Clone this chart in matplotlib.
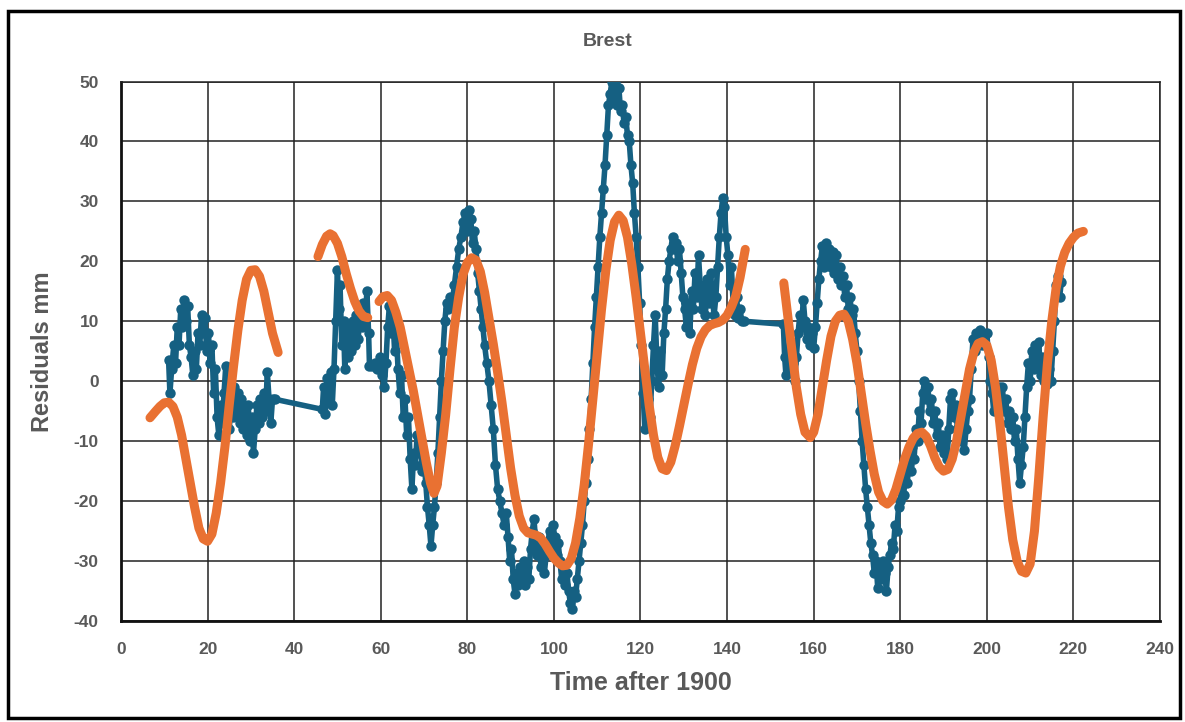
import matplotlib.pyplot as plt
from matplotlib.patches import Rectangle

plt.rcParams['axes.unicode_minus'] = False
plt.rcParams['font.family'] = ['Liberation Sans', 'DejaVu Sans']

obs_x = [11.0, 11.3, 11.7, 12.2, 12.6, 13.0, 13.4, 13.8, 14.2, 14.6, 15.0, 15.4, 15.8, 16.2, 16.6, 17.0,
         17.4, 17.8, 18.2, 18.6, 19.0, 19.4, 19.8, 20.2, 20.6, 21.0, 21.4, 21.8, 22.2, 22.6, 23.0, 23.4,
         23.8, 24.2, 24.6, 25.0, 25.4, 25.8, 26.2, 26.6, 27.0, 27.4, 27.8, 28.2, 28.6, 29.0, 29.4, 29.8,
         30.2, 30.6, 31.0, 31.4, 31.8, 32.2, 32.6, 33.0, 33.4, 33.8, 34.2, 34.6, 35.0, 35.5,
         46.5, 46.8, 47.2, 47.6, 48.0, 48.4, 48.8, 49.2, 49.6, 50.0, 50.3, 50.6, 51.0, 51.4, 51.7, 52.0,
         52.4, 52.8, 53.2, 53.6, 54.0, 54.4, 54.8, 55.2, 55.6, 56.0, 56.4, 56.8, 57.2, 57.4, 58.0, 58.6,
         59.2, 59.8, 60.4, 60.8, 61.2, 61.6, 62.0, 62.4, 62.8, 63.2, 63.6, 64.0, 64.4, 64.8, 65.2, 65.6,
         66.0, 66.4, 66.8, 67.2, 67.6, 68.0, 68.4, 68.8, 69.2, 69.6, 70.0, 70.4, 70.8, 71.2, 71.6, 72.0,
         72.4, 72.8, 73.2, 73.6, 74.0, 74.4, 74.8, 75.2, 75.6, 76.0, 76.5, 77.0, 77.5, 78.0, 78.5, 79.0,
         79.5, 80.0, 80.4, 80.8, 81.2, 81.6, 82.0, 82.4, 82.8, 83.2, 83.6, 84.0, 84.5, 85.0, 85.5, 86.0,
         86.5, 87.0, 87.5, 88.0, 88.5, 89.0, 89.4, 89.8, 90.2, 90.6, 91.0, 91.4, 91.8, 92.2, 92.6, 93.0,
         93.4, 93.8, 94.2, 94.6, 95.0, 95.4, 95.8, 96.2, 96.6, 97.0, 97.4, 97.8, 98.2, 98.6, 99.0, 99.4,
         99.8, 100.2, 100.6, 101.0, 101.4, 101.8, 102.2, 102.6, 103.0, 103.4, 103.8, 104.2, 104.6, 105.0,
         105.4, 105.8, 106.2, 106.6, 107.0, 107.4, 107.8, 108.2, 108.6, 109.0, 109.4, 109.8, 110.2, 110.6,
         111.0, 111.4, 111.8, 112.2, 112.6, 113.0, 113.4, 113.8, 114.2, 114.6, 115.0, 115.4, 115.8, 116.2,
         116.6, 117.0, 117.4, 117.8, 118.2, 118.6, 119.0, 119.4, 119.8, 120.2, 120.6, 121.0, 121.4, 121.8,
         122.2, 122.6, 123.0, 123.4, 123.8, 124.2, 124.6, 125.0, 125.4, 125.8, 126.2, 126.6, 127.0, 127.4,
         127.8, 128.2, 128.6, 129.0, 129.4, 129.8, 130.2, 130.6, 131.0, 131.4, 131.8, 132.2, 132.6, 133.0,
         133.4, 133.8, 134.2, 134.6, 135.0, 135.4, 135.8, 136.2, 136.6, 137.0, 137.4, 137.8, 138.2, 138.6,
         139.0, 139.4, 139.8, 140.2, 140.6, 141.0, 141.4, 141.8, 142.2, 142.6, 143.0, 143.4, 144.0,
         153.0, 153.3, 153.6, 154.0, 154.4, 154.8, 155.2, 155.6, 156.0, 156.4, 156.8, 157.2, 157.6, 158.0,
         158.4, 158.8, 159.2, 159.6, 160.0, 160.4, 160.8, 161.2, 161.6, 162.0, 162.4, 162.8, 163.2, 163.6,
         164.0, 164.4, 164.8, 165.2, 165.6, 166.0, 166.4, 166.8, 167.2, 167.6, 168.0, 168.4, 168.8, 169.2,
         169.6, 170.0, 170.4, 170.8, 171.2, 171.6, 172.0, 172.4, 172.8, 173.2, 173.6, 174.0, 174.4, 174.8,
         175.2, 175.6, 176.0, 176.4, 176.8, 177.2, 177.6, 178.0, 178.4, 178.8, 179.2, 179.6, 180.0, 180.4,
         180.8, 181.2, 181.6, 182.0, 182.4, 182.8, 183.2, 183.6, 184.0, 184.4, 184.8, 185.2, 185.6, 186.0,
         186.4, 186.8, 187.2, 187.6, 188.0, 188.4, 188.8, 189.2, 189.6, 190.0, 190.4, 190.8, 191.2, 191.6,
         192.0, 192.4, 192.8, 193.2, 193.6, 194.0, 194.4, 194.8, 195.2, 195.6, 196.0, 196.4, 196.8, 197.2,
         197.6, 198.0, 198.4, 198.8, 199.2, 199.6, 200.0, 200.4, 200.8, 201.2, 201.6, 202.0, 202.4, 202.8,
         203.2, 203.6, 204.0, 204.4, 204.8, 205.2, 205.6, 206.0, 206.4, 206.8, 207.2, 207.6, 208.0, 208.4,
         208.8, 209.2, 209.6, 210.0, 210.4, 210.8, 211.2, 211.6, 212.0, 212.4, 212.8, 213.2, 213.6, 214.0,
         214.4, 214.8, 215.2, 215.6, 216.0, 216.4, 216.8, 217.2]
obs_y = [3.5, -2.0, 2.0, 6.0, 3.0, 9.0, 6.0, 12.0, 9.0, 13.5, 10.0, 12.5, 6.0, 4.0, 1.0, 5.0,
         2.0, 8.0, 6.0, 11.0, 8.0, 10.5, 5.0, 8.0, 3.0, 6.0, -2.0, 2.0, -6.0, -9.0, -4.0, -7.0,
         -2.0, 2.5, -5.0, -8.0, -4.0, -6.0, -1.0, -5.0, -2.0, -7.0, -3.0, -8.0, -5.0, -9.0, -4.0, -10.0,
         -6.0, -12.0, -8.0, -4.0, -7.0, -3.0, -6.0, -2.0, -5.0, 1.5, -3.0, -7.0, -3.0, -3.0,
         -4.7, -1.0, -5.5, 0.5, -3.0, 1.5, -4.0, 2.0, 10.0, 18.5, 12.0, 16.0, 6.0, 10.0, 2.0, 8.0,
         4.0, 9.0, 5.0, 10.0, 6.0, 11.0, 7.0, 12.0, 9.0, 13.0, 10.0, 15.0, 8.0, 2.5, 2.5, 3.0,
         2.0, 4.0, 1.0, -1.0, 3.0, 9.0, 12.5, 8.0, 11.0, 5.0, 8.0, 2.0, -2.0, 1.0, -6.0, -3.0,
         -9.0, -6.0, -13.0, -18.0, -12.0, -14.0, -9.0, -12.0, -10.0, -15.0, -13.0, -17.0, -21.0, -24.0, -27.5, -24.0,
         -21.0, -17.0, -12.0, -6.0, 0.0, 5.0, 10.0, 13.0, 12.0, 14.0, 13.0, 16.0, 19.0, 22.0, 24.0, 26.5,
         28.0, 25.0, 28.5, 27.0, 23.0, 25.0, 22.0, 18.0, 15.0, 12.0, 9.0, 6.0, 3.0, 0.0, -4.0, -8.0,
         -14.0, -18.0, -20.0, -22.0, -24.0, -22.0, -26.0, -30.0, -28.0, -33.0, -35.5, -32.0, -34.0, -31.0, -33.0, -30.0,
         -34.0, -31.0, -33.0, -28.0, -25.0, -23.0, -27.0, -29.0, -26.0, -31.0, -28.0, -32.0, -29.0, -27.0, -25.0, -28.0,
         -24.0, -26.0, -29.0, -27.0, -30.0, -33.0, -31.0, -34.0, -32.0, -35.0, -37.0, -38.0, -35.0, -36.0,
         -33.0, -30.0, -27.0, -24.0, -20.0, -17.0, -13.0, -8.0, -3.0, 3.0, 9.0, 14.0, 19.0, 24.0,
         28.0, 32.0, 36.0, 41.0, 46.0, 48.0, 50.0, 47.0, 50.0, 46.0, 49.0, 45.0, 46.0, 43.0,
         44.0, 41.0, 40.0, 36.0, 33.0, 28.0, 24.0, 19.0, 13.0, 6.0, -2.0, -8.0, -5.0, -3.0,
         -6.0, 0.0, 6.0, 11.0, 3.0, -1.0, 5.0, 1.0, 8.0, 12.0, 17.0, 20.0, 22.0, 24.0,
         22.0, 23.0, 20.0, 22.0, 18.0, 14.0, 12.0, 9.0, 13.0, 8.0, 15.0, 12.0, 18.0, 14.0,
         21.0, 16.0, 12.0, 15.0, 11.0, 17.0, 13.0, 18.0, 14.0, 11.0, 14.0, 19.0, 24.0, 28.0,
         30.5, 29.0, 24.0, 21.0, 16.0, 19.0, 13.0, 11.0, 14.0, 10.5, 12.0, 10.0, 10.0,
         9.5, 4.0, 1.0, 5.0, 2.0, 6.0, 3.0, 0.0, 4.0, 8.0, 11.0, 9.0, 13.5, 10.0,
         7.0, 9.0, 6.0, 8.0, 5.5, 9.0, 13.0, 17.0, 20.0, 22.5, 19.0, 23.0, 20.0, 22.0,
         19.0, 21.5, 18.0, 21.0, 17.0, 19.0, 16.0, 17.5, 14.0, 16.0, 12.0, 14.0, 11.0, 12.0,
         8.0, 5.0, 0.0, -5.0, -10.0, -14.0, -18.0, -21.0, -24.0, -27.0, -29.0, -32.0, -30.0, -34.5,
         -31.0, -33.0, -30.0, -32.0, -35.0, -31.0, -29.0, -27.0, -28.0, -24.0, -25.0, -21.0, -20.0, -17.0,
         -19.0, -15.0, -17.0, -14.0, -15.0, -11.0, -13.0, -8.0, -10.0, -5.0, -7.0, -2.0, 0.0, -3.0,
         -1.0, -5.0, -3.0, -7.0, -5.0, -9.0, -7.0, -11.0, -9.0, -12.0, -10.0, -13.0, -8.0, -3.0,
         -2.0, -6.0, -4.0, -8.0, -6.0, -10.0, -8.0, -11.5, -8.0, -5.0, -3.0, 2.0, 7.0, 5.0,
         8.0, 6.0, 8.5, 6.0, 8.0, 6.0, 8.0, 4.0, 0.0, -2.0, -5.0, -2.0, -4.0, -1.0,
         -3.0, -1.0, -5.0, -3.0, -7.0, -5.0, -8.0, -6.0, -10.0, -8.0, -13.0, -17.0, -14.0, -11.0,
         -6.0, -1.0, 3.0, 0.0, 5.0, 2.0, 6.0, 3.0, 6.5, 1.0, 4.0, 0.0, 3.0, -0.5,
         2.0, 0.0, 5.0, 10.0, 16.0, 17.5, 14.0, 16.5]

# fitted curve (orange), four separate pieces
fit1_x = [6.7, 8, 9, 10, 11, 12, 13, 14, 15, 16, 17, 18, 19, 20, 21, 22, 23, 24, 25, 26, 27, 28,
          29, 30, 31, 32, 33, 34, 35, 36.3]
fit1_y = [-6.1, -5, -4.2, -3.6, -3.5, -4.2, -6, -9, -13, -17, -21, -24.5, -26.3, -26.7, -25.5, -22,
          -17, -11, -4, 2.5, 8.5, 13.5, 17, 18.5, 18.6, 17.5, 15, 11.5, 8, 4.8]
fit2_x = [45.5, 46.5, 47.5, 48.3, 49, 50, 51, 52, 53, 54, 55, 56, 57]
fit2_y = [20.8, 22.8, 24.2, 24.6, 24.3, 23, 20.8, 18, 15.5, 13.3, 11.7, 10.8, 10.6]
fit3_x = [59.6, 60.5, 61.5, 62.5, 63.5, 64.5, 65.5, 66.5, 67.5, 68.5, 69.5, 70.5, 71.5, 72.3, 73,
          74, 75, 76, 77, 78, 79, 80, 81, 82, 83, 84, 85, 86, 87, 88, 89, 90, 91, 92, 93, 94, 95,
          96, 97, 98, 99, 100, 101, 102, 103, 104, 105, 106, 107, 108, 109, 110, 111, 112, 113,
          114, 115, 116, 117, 118, 119, 120, 121, 122, 123, 124, 125, 126, 127, 128, 129, 130,
          131, 132, 133, 134, 135, 136, 137, 138, 139, 140, 141, 142, 143, 144.2]
fit3_y = [13.3, 14.1, 14.3, 13.5, 11.5, 9, 5.5, 2, -1.5, -5.5, -9.5, -13.5, -17, -18.7, -17.5,
          -12, -5.6, 2, 9, 14, 17.8, 19.8, 20.6, 20.2, 18.3, 14.8, 10.5, 6.2, 1.5, -3.5, -9, -14.5,
          -19, -22.5, -24.5, -25.3, -25.5, -25.7, -26.2, -27.2, -28.4, -29.5, -30.3, -30.8, -30.7,
          -29.6, -27, -22.8, -17.3, -10.5, -3, 4.5, 12, 18.5, 23.5, 26.6, 27.7, 26.8, 24, 19.5, 14,
          8, 2, -4, -9, -12.7, -14.6, -14.9, -13.5, -10.8, -7.5, -4, -0.5, 2.8, 5.5, 7.4, 8.6, 9.3,
          9.6, 9.8, 10.2, 11, 12.4, 14.2, 17.3, 22]
fit4_x = [153.1, 154, 155, 156, 157, 158, 159.2, 160, 161, 162, 163, 164, 165, 166, 167, 168, 169,
          170, 171, 172, 173, 174, 175, 176, 177, 178, 179, 180, 181, 182, 183, 184, 185, 186, 187,
          188, 189, 190, 191, 192, 193, 194, 195, 196, 197, 198, 199, 200, 201, 202, 203, 204, 205,
          206, 207, 208, 209, 210, 211, 212, 213, 214, 215, 216, 217, 218, 219, 220, 221, 222.3]
fit4_y = [16.4, 11, 5, -1, -5.5, -8.5, -9.4, -8.5, -5.5, -1, 3.5, 7.5, 10, 11, 11.2, 10, 7, 3, -2,
          -7, -11.5, -15.5, -18.5, -20, -20.5, -19.8, -18, -15.5, -13, -11, -9.5, -8.7, -8.5, -9.2,
          -10.8, -12.8, -14.3, -15, -14.7, -13, -10, -6, -2, 2, 4.8, 6.3, 6.6, 6, 3.5, -1, -7, -14,
          -21, -26.5, -30, -31.7, -32, -30.5, -25, -16, -6, 3, 10, 15.5, 19.2, 21.5, 23, 24, 24.7, 25]

x_ticks = list(range(0, 241, 20))
y_ticks = list(range(-40, 51, 10))

blue = '#156082'
orange = '#E97132'
grey = '#595959'

fig = plt.figure(figsize=(11.85, 7.22), dpi=100)
ax = fig.add_axes([0.1021, 0.1399, 0.8768, 0.7472])

ax.plot(obs_x, obs_y, color=blue, lw=4, marker='o', ms=7.5, mew=0, zorder=3)
for fx, fy in [(fit1_x, fit1_y), (fit2_x, fit2_y), (fit3_x, fit3_y), (fit4_x, fit4_y)]:
    ax.plot(fx, fy, color=orange, lw=6.5, solid_capstyle='round', solid_joinstyle='round', zorder=4)

ax.set_xlim(0, 240)
ax.set_ylim(-40, 50)
ax.set_xticks(x_ticks)
ax.set_yticks(y_ticks)
ax.grid(True, color='#222222', lw=1.1)
ax.set_axisbelow(True)
ax.tick_params(length=0, labelsize=12.5, labelcolor=grey)
ax.tick_params(axis='x', pad=15)
ax.tick_params(axis='y', pad=16)
for lab in ax.get_xticklabels() + ax.get_yticklabels():
    lab.set_fontweight('bold')
for side in ['left', 'bottom']:
    ax.spines[side].set_linewidth(2)
    ax.spines[side].set_color('#111111')
for side in ['top', 'right']:
    ax.spines[side].set_linewidth(1.1)
    ax.spines[side].set_color('#222222')

ax.set_xlabel('Time after 1900', fontsize=18, fontweight='bold', color=grey, labelpad=10)
ax.set_ylabel('Residuals mm', fontsize=17, fontweight='bold', color=grey, labelpad=14)
fig.text(608 / 1185, 1 - 42 / 722, 'Brest', ha='center', va='center', fontsize=14,
         fontweight='bold', color=grey)

fig.patches.append(Rectangle((8 / 1185, 4 / 722), 1172 / 1185, 707 / 722, transform=fig.transFigure,
                             fill=False, edgecolor='black', lw=2.5))

fig.savefig('out.png', dpi=100)
